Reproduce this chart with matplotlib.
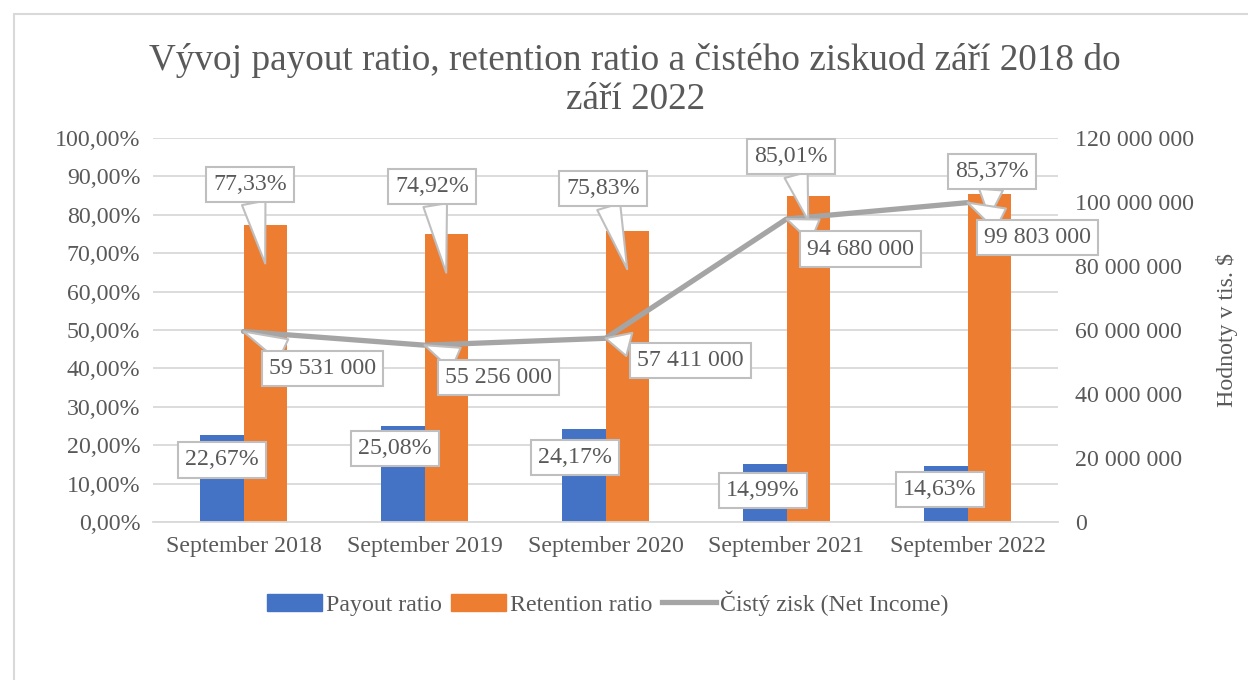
import matplotlib
matplotlib.use('Agg')
import matplotlib.pyplot as plt
from matplotlib.patches import Rectangle, Patch
from matplotlib.lines import Line2D
from matplotlib.ticker import FuncFormatter, MultipleLocator
import numpy as np

# data
categories = ['September 2018', 'September 2019', 'September 2020', 'September 2021', 'September 2022']
payout_ratio = [22.67, 25.08, 24.17, 14.99, 14.63]
retention_ratio = [77.33, 74.92, 75.83, 85.01, 85.37]
net_income = [59531000, 55256000, 57411000, 94680000, 99803000]

title = 'Vývoj payout ratio, retention ratio a čistého ziskuod září 2018 do\nzáří 2022'

# styles
BLUE = '#4472C4'
ORANGE = '#ED7D31'
GREY = '#A5A5A5'
TXT = '#595959'
GRID = '#D9D9D9'
BOX_EDGE = '#BFBFBF'
FS = 17.2

# label layout (pixel offsets of the callout boxes)
ret_tip_depth = [10, 10, 10, 6.5, 6]
ret_box_off = [(-15, 79), (-14, 86), (-24, 81), (-17, 64), (3, 46)]
ni_box_off = [(79, -37), (74, -32), (85, -22), (74, -30), (70, -35)]
pay_box_off = [(0, -25), (-8, -23), (-9, -28), (-2, -26), (-6, -24)]

plt.rcParams['font.family'] = ['Liberation Serif', 'DejaVu Serif']

fig = plt.figure(figsize=(12.48, 6.8), dpi=100)
ax = fig.add_axes([153 / 1248, 1 - 522 / 680, (1058 - 153) / 1248, (522 - 138) / 680])
ax2 = ax.twinx()

x = np.arange(len(categories))
w = 0.24
ax.bar(x - w / 2, payout_ratio, w, color=BLUE, zorder=2)
ax.bar(x + w / 2, retention_ratio, w, color=ORANGE, zorder=2)
ax2.plot(x, net_income, color=GREY, lw=3.8, solid_capstyle='round', zorder=3)

ax.set_xlim(-0.5, len(categories) - 0.5)
ax.set_ylim(0, 100)
ax.yaxis.set_major_locator(MultipleLocator(10))
ax.yaxis.set_major_formatter(FuncFormatter(lambda v, p: f'{v:.2f}'.replace('.', ',') + '%'))
ax.grid(axis='y', color=GRID, lw=1.3, zorder=0)
ax.set_axisbelow(True)
ax2.set_ylim(0, 120e6)
ax2.yaxis.set_major_locator(MultipleLocator(20e6))
ax2.yaxis.set_major_formatter(FuncFormatter(lambda v, p: f'{int(v):,}'.replace(',', ' ')))

ax.set_xticks(x)
ax.set_xticklabels(categories)
for a in (ax, ax2):
    for s in a.spines.values():
        s.set_visible(False)
    a.tick_params(length=0, labelsize=FS, labelcolor=TXT)
ax.spines['bottom'].set_visible(True)
ax.spines['bottom'].set_color(GRID)
ax.spines['bottom'].set_linewidth(1.3)
ax.tick_params(axis='y', pad=9)
ax.tick_params(axis='x', pad=10)
ax2.tick_params(axis='y', pad=12)
ax2.set_ylabel('Hodnoty v tis. $', fontsize=FS, color=TXT, labelpad=16)

box = dict(boxstyle='square,pad=0.3', fc='white', ec=BOX_EDGE, lw=1.5)
wedge = dict(arrowstyle='wedge,tail_width=1.0,shrink_factor=0.5', fc='white', ec=BOX_EDGE, lw=1.5,
             shrinkA=0, shrinkB=0)


def fmt_pct(v):
    return f'{v:.2f}'.replace('.', ',') + '%'


for i in range(len(categories)):
    # retention labels
    ax2.annotate(fmt_pct(retention_ratio[i]), xy=(x[i] + w / 2, retention_ratio[i] - ret_tip_depth[i]),
                 xycoords=ax.transData, xytext=ret_box_off[i], textcoords='offset pixels',
                 ha='center', va='center', fontsize=FS, color=TXT, bbox=box, arrowprops=wedge, zorder=5)
    # net income labels
    ax2.annotate(f'{net_income[i]:,}'.replace(',', ' '), xy=(x[i], net_income[i]),
                 xytext=ni_box_off[i], textcoords='offset pixels',
                 ha='center', va='center', fontsize=FS, color=TXT, bbox=box, arrowprops=wedge, zorder=5)
    # payout labels
    ax2.annotate(fmt_pct(payout_ratio[i]), xy=(x[i] - w / 2, payout_ratio[i]),
                 xycoords=ax.transData, xytext=pay_box_off[i], textcoords='offset pixels',
                 ha='center', va='center', fontsize=FS, color=TXT, bbox=box, zorder=5)

fig.text(0.509, 1 - 80 / 680, title, ha='center', va='center', fontsize=26.8, color=TXT, linespacing=1.17)

handles = [Patch(color=BLUE), Patch(color=ORANGE), Line2D([], [], color=GREY, lw=3.8)]
fig.legend(handles, ['Payout ratio', 'Retention ratio', 'Čistý zisk (Net Income)'],
           loc='center', bbox_to_anchor=(0.487, 1 - 603 / 680), ncol=3, frameon=False,
           fontsize=FS, labelcolor=TXT, handlelength=2.3, handletextpad=0.15, columnspacing=0.4)

fig.add_artist(Rectangle((14 / 1248, -0.05), 1.2, 1 - 14 / 680 + 0.05, transform=fig.transFigure,
                         fill=False, ec=GRID, lw=1.5))

fig.savefig('out.png', dpi=100)
